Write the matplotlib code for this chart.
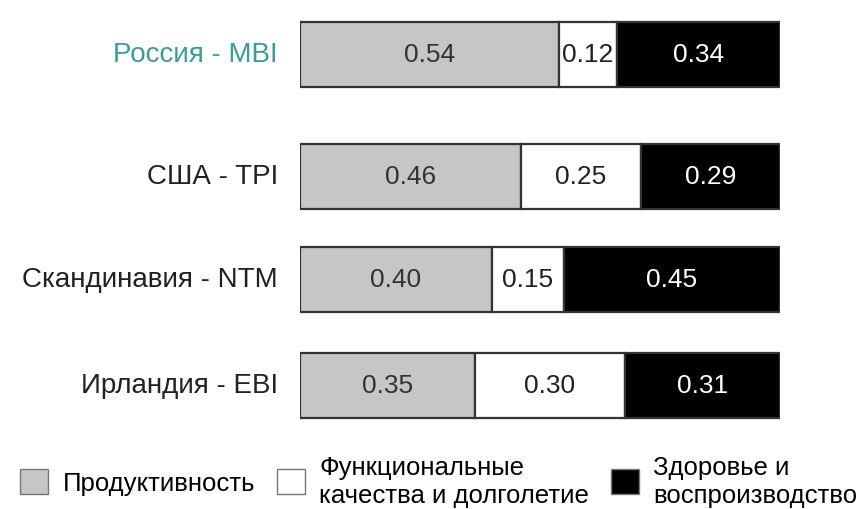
import matplotlib.pyplot as plt
import numpy as np
from matplotlib.patches import Patch

plt.rcParams['font.family'] = ['Liberation Sans', 'DejaVu Sans']

# Data
indices = ['Россия - MBI', 'США - TPI', 'Скандинавия - NTM', 'Ирландия - EBI']
productivity = [0.54, 0.46, 0.40, 0.35]
functional = [0.12, 0.25, 0.15, 0.30]
health = [0.34, 0.29, 0.45, 0.31]
series_names = ['Продуктивность', 'Функциональные\nкачества и долголетие', 'Здоровье и\nвоспроизводство']

# Layout (pixel rows, figure is 864x510)
W, H = 864, 510
row_y = [55, 177, 280, 386]
bar_h = 65
fills = ['#c6c6c6', '#ffffff', '#000000']
text_colors = ['#333333', '#222222', '#ffffff']
label_colors = ['#3a9c9c', '#222222', '#222222', '#222222']

fig = plt.figure(figsize=(W / 100, H / 100), dpi=100)
ax = fig.add_axes([300 / W, 0, 480 / W, 1])
ax.set_xlim(0, 1)
ax.set_ylim(H, 0)
ax.axis('off')

data = np.array([productivity, functional, health])
shares = data / data.sum(axis=0)

left = np.zeros(len(indices))
for k in range(3):
    ax.barh(row_y, shares[k], left=left, height=bar_h, color=fills[k],
            edgecolor='#333333', linewidth=1.6)
    for i in range(len(indices)):
        ax.text(left[i] + shares[k][i] / 2, row_y[i], f'{data[k][i]:.2f}',
                ha='center', va='center', fontsize=19, color=text_colors[k])
    left += shares[k]

for i, name in enumerate(indices):
    ax.text(-22 / 480, row_y[i], name, ha='right', va='center', fontsize=20,
            color=label_colors[i])

handles = [Patch(facecolor=fills[k], edgecolor='#777777', linewidth=1) for k in range(3)]
fig.legend(handles, series_names, loc='center left', bbox_to_anchor=(20 / W, 1 - 482 / H),
           ncol=3, frameon=False, fontsize=18.5, handlelength=1.1, handleheight=1.1,
           handletextpad=0.55, columnspacing=0.85, labelspacing=0.2,
           borderpad=0, borderaxespad=0)

fig.savefig('out.png', dpi=100)
